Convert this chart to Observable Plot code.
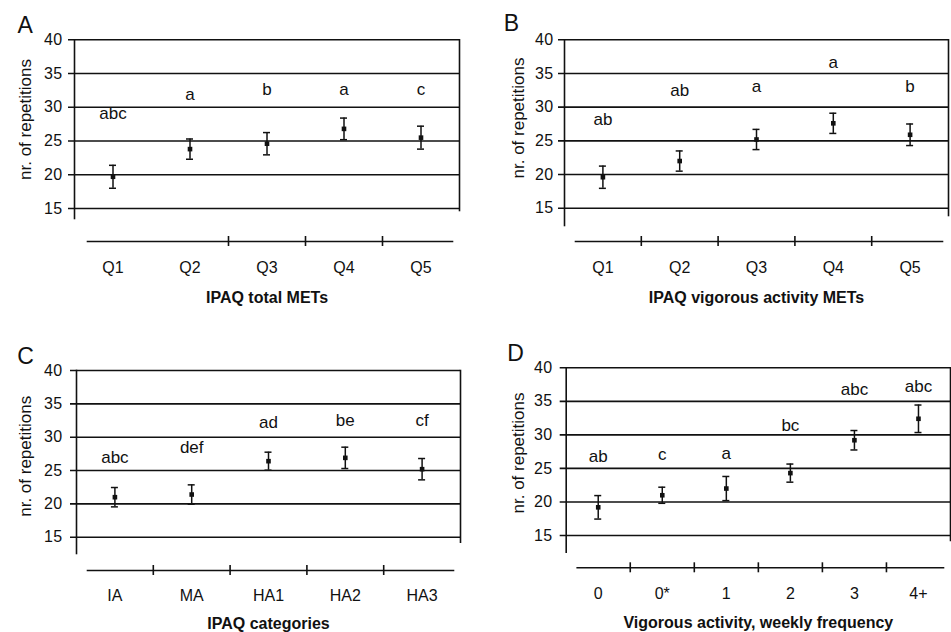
<!DOCTYPE html>
<html><head><meta charset="utf-8">
<script src="https://cdn.jsdelivr.net/npm/d3@7"></script>
<script src="https://cdn.jsdelivr.net/npm/@observablehq/plot@0.6"></script>
<style>
body{margin:0;background:#fff;}
#fig{position:relative;width:951px;height:632px;overflow:hidden;background:#fff;font-family:"Liberation Sans",Arial,sans-serif;}
#fig > div{position:absolute;}
</style></head><body><div id="fig"></div>
<script>
// ---------- data ----------
const yTicks = [15, 20, 25, 30, 35, 40];
const yTitle = "nr. of repetitions";

const catsA = ["Q1", "Q2", "Q3", "Q4", "Q5"];
const meanA = [19.7, 23.8, 24.6, 26.8, 25.5];
const errA = [1.7, 1.5, 1.65, 1.6, 1.7];
const lettersA = ["abc", "a", "b", "a", "c"];
const letterYA = [28.2, 31.1, 31.8, 31.8, 31.8];
const sepsA = ["Q3", "Q4", "Q5"];
const titleA = "IPAQ total METs";

const catsB = ["Q1", "Q2", "Q3", "Q4", "Q5"];
const meanB = [19.6, 22.0, 25.2, 27.6, 25.9];
const errB = [1.65, 1.5, 1.5, 1.5, 1.6];
const lettersB = ["ab", "ab", "a", "a", "b"];
const letterYB = [27.3, 31.6, 32.3, 35.8, 32.3];
const sepsB = ["Q2", "Q3", "Q4", "Q5"];
const titleB = "IPAQ vigorous activity METs";

const catsC = ["IA", "MA", "HA1", "HA2", "HA3"];
const meanC = [21.0, 21.4, 26.4, 26.9, 25.2];
const errC = [1.45, 1.45, 1.35, 1.6, 1.6];
const lettersC = ["abc", "def", "ad", "be", "cf"];
const letterYC = [26.1, 27.6, 31.4, 31.75, 31.75];
const sepsC = ["MA", "HA1", "HA2", "HA3"];
const titleC = "IPAQ categories";

const catsD = ["0", "0*", "1", "2", "3", "4+"];
const meanD = [19.2, 21.0, 22.0, 24.3, 29.2, 32.4];
const errD = [1.75, 1.2, 1.8, 1.35, 1.45, 2.05];
const lettersD = ["ab", "c", "a", "bc", "abc", "abc"];
const letterYD = [25.9, 26.2, 26.4, 30.65, 35.9, 36.4];
const sepsD = ["0*", "1", "2", "3", "4+"];
const titleD = "Vigorous activity, weekly frequency";

// ---------- layout (pixels) ----------
const layouts = {
  A: {left: 0, top: 0, w: 475, h: 310, ml: 74, mr: 16, mt: 39.3, mb: 69, y15: 208, axL: 13, axR: 7, leftEnd: 218, rightEnd: 210, gap: 12, yTitleX: 25, yTitleY: 119, tagX: 17, tagY: 32, catDy: 26, titleDy: 56},
  B: {left: 475, top: 0, w: 476, h: 310, ml: 89, mr: 3, mt: 39.3, mb: 69, y15: 207.7, axL: 11, axR: 6, leftEnd: 225, rightEnd: 215, gap: 11, yTitleX: 43, yTitleY: 117.5, tagX: 28.3, tagY: 30, catDy: 26, titleDy: 56},
  C: {left: 0, top: 310, w: 475, h: 322, ml: 76, mr: 15, mt: 60, mb: 62, y15: 226.7, axL: 11, axR: 7, leftEnd: 243, rightEnd: 231.7, gap: 14, yTitleX: 25, yTitleY: 145.8, tagX: 16.7, tagY: 53.3, catDy: 25, titleDy: 53},
  D: {left: 475, top: 310, w: 476, h: 322, ml: 90.7, mr: 1, mt: 57.3, mb: 64.7, y15: 225, axL: 11, axR: 7, leftEnd: 241.7, rightEnd: 230, gap: 13.6, yTitleX: 43.3, yTitleY: 142.5, tagX: 31.7, tagY: 50, catDy: 26, titleDy: 55}
};

const FONT = '"Liberation Sans", Arial, Helvetica, sans-serif';
const ink = "#111";
const sw = 1.6;

function panel(tag, cats, mean, err, letters, letterY, seps, title) {
  const L = layouts[tag];
  const rows = cats.map((c, i) => ({c, m: mean[i], lo: mean[i] - err[i], hi: mean[i] + err[i], t: letters[i], ty: letterY[i]}));
  const frameW = L.w - L.ml - L.mr;
  const bottom = L.h - L.mb;
  const frameH = bottom - L.mt;
  const bw = frameW / cats.length;
  const capInset = (bw - 7) / 2;
  const frameMidY = (L.mt + bottom) / 2;
  const svg = Plot.plot({
    width: L.w, height: L.h,
    marginLeft: L.ml, marginRight: L.mr, marginTop: L.mt, marginBottom: L.mb,
    style: {fontFamily: FONT, fontSize: "16px", color: ink, background: "transparent", overflow: "visible"},
    x: {type: "band", domain: cats, padding: 0, round: false, axis: null},
    y: {domain: [15, 40], range: [L.y15, L.mt], axis: null},
    marks: [
      Plot.ruleY(yTicks, {insetLeft: -6, stroke: ink, strokeWidth: sw}),
      Plot.frame({anchor: "left", insetBottom: bottom - L.leftEnd, stroke: ink, strokeWidth: sw}),
      Plot.frame({anchor: "right", insetBottom: bottom - L.rightEnd, stroke: ink, strokeWidth: sw}),
      Plot.frame({anchor: "bottom", insetLeft: L.axL, insetRight: L.axR, stroke: ink, strokeWidth: sw}),
      Plot.ruleX(seps, {x: d => d, dx: -bw / 2, dy: 5, insetTop: frameH - 10, stroke: ink, strokeWidth: sw}),
      Plot.axisY(yTicks, {anchor: "left", tickSize: 0, tickPadding: L.gap, label: null, fontSize: 16}),
      Plot.text(cats, {x: d => d, frameAnchor: "bottom", lineAnchor: "middle", dy: L.catDy, fontSize: 16, fill: ink, ariaLabel: "xcat"}),
      Plot.text([title], {frameAnchor: "bottom", lineAnchor: "middle", textAnchor: "middle", dy: L.titleDy, fontSize: 16, fontWeight: "bold", fill: ink, ariaLabel: "xtitle"}),
      Plot.text([yTitle], {frameAnchor: "left", textAnchor: "middle", lineAnchor: "middle", rotate: -90, dx: L.yTitleX - L.ml, dy: L.yTitleY - frameMidY, fontSize: 17, fill: ink, ariaLabel: "ytitle"}),
      Plot.text([tag], {frameAnchor: "top-left", textAnchor: "start", lineAnchor: "bottom", dx: L.tagX - L.ml, dy: L.tagY - L.mt, fontSize: 23, fill: ink}),
      Plot.ruleX(rows, {x: "c", y1: "lo", y2: "hi", stroke: ink, strokeWidth: 1.5}),
      Plot.tickY(rows, {x: "c", y: "hi", insetLeft: capInset, insetRight: capInset, stroke: ink, strokeWidth: 1.5}),
      Plot.tickY(rows, {x: "c", y: "lo", insetLeft: capInset, insetRight: capInset, stroke: ink, strokeWidth: 1.5}),
      Plot.dot(rows, {x: "c", y: "m", symbol: "square", r: 2.6, fill: ink, stroke: null}),
      Plot.text(rows, {x: "c", y: "ty", text: "t", lineAnchor: "bottom", fontSize: 17, fill: ink})
    ]
  });
  const s = d3.select(svg);
  s.selectAll('[aria-label="xtitle"] text').style("letter-spacing", "0.8px");
  s.selectAll('[aria-label="ytitle"] text').style("letter-spacing", "0.9px");
  s.selectAll('[aria-label="xcat"] text').style("letter-spacing", "0.4px");
  s.selectAll('[aria-label="y-axis tick label"] text').style("letter-spacing", "0.4px");
  const wrap = document.createElement("div");
  wrap.style.left = L.left + "px";
  wrap.style.top = L.top + "px";
  wrap.appendChild(svg);
  document.getElementById("fig").appendChild(wrap);
}

panel("A", catsA, meanA, errA, lettersA, letterYA, sepsA, titleA);
panel("B", catsB, meanB, errB, lettersB, letterYB, sepsB, titleB);
panel("C", catsC, meanC, errC, lettersC, letterYC, sepsC, titleC);
panel("D", catsD, meanD, errD, lettersD, letterYD, sepsD, titleD);
</script>
</body></html>
